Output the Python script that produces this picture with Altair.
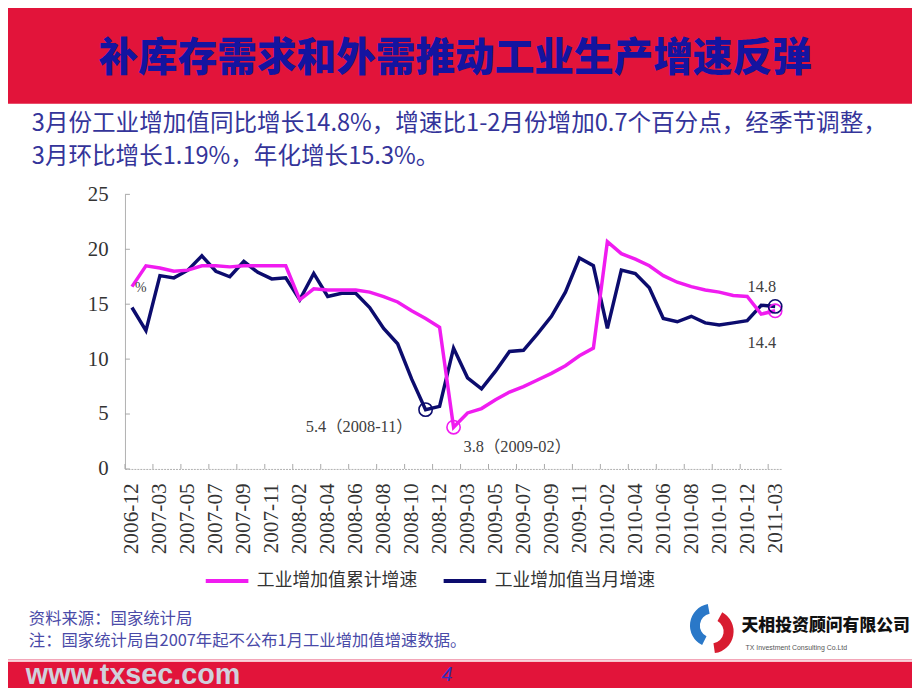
import altair as alt
import pandas as pd

# ---------------- data ----------------
months = [
    "2006-12",
    "2007-02", "2007-03", "2007-04", "2007-05", "2007-06", "2007-07", "2007-08",
    "2007-09", "2007-10", "2007-11", "2007-12",
    "2008-02", "2008-03", "2008-04", "2008-05", "2008-06", "2008-07", "2008-08",
    "2008-09", "2008-10", "2008-11", "2008-12",
    "2009-02", "2009-03", "2009-04", "2009-05", "2009-06", "2009-07", "2009-08",
    "2009-09", "2009-10", "2009-11", "2009-12",
    "2010-02", "2010-03", "2010-04", "2010-05", "2010-06", "2010-07", "2010-08",
    "2010-09", "2010-10", "2010-11", "2010-12",
    "2011-02", "2011-03",
]
cumulative = [
    16.6,
    18.5, 18.3, 18.0, 18.1, 18.5, 18.5, 18.4, 18.5, 18.5, 18.5, 18.5,
    15.4, 16.4, 16.3, 16.3, 16.3, 16.1, 15.7, 15.2, 14.4, 13.7, 12.9,
    3.8, 5.1, 5.5, 6.3, 7.0, 7.5, 8.1, 8.7, 9.4, 10.3, 11.0,
    20.7, 19.6, 19.1, 18.5, 17.6, 17.0, 16.6, 16.3, 16.1, 15.8, 15.7,
    14.1, 14.4,
]
monthly = [
    14.7,
    12.6, 17.6, 17.4, 18.1, 19.4, 18.0, 17.5, 18.9, 17.9, 17.3, 17.4,
    15.4, 17.8, 15.7, 16.0, 16.0, 14.7, 12.8, 11.4, 8.2, 5.4, 5.7,
    11.0, 8.3, 7.3, 8.9, 10.7, 10.8, 12.3, 13.9, 16.1, 19.2, 18.5,
    12.8, 18.1, 17.8, 16.5, 13.7, 13.4, 13.9, 13.3, 13.1, 13.3, 13.5,
    14.9, 14.8,
]
series_names = ["工业增加值累计增速", "工业增加值当月增速"]
series_colors = ["#f01cf0", "#0c0c6e"]
tick_months = months[::2]
y_ticks = [0, 5, 10, 15, 20, 25]

title_text = "补库存需求和外需推动工业生产增速反弹"
sub_line1 = "3月份工业增加值同比增长14.8%，增速比1-2月份增加0.7个百分点，经季节调整，"
sub_line2 = "3月环比增长1.19%，年化增长15.3%。"
source_line1 = "资料来源：国家统计局"
source_line2 = "注：国家统计局自2007年起不公布1月工业增加值增速数据。"
site_text = "www.txsec.com"
page_no = "4"
company_cn = "天相投资顾问有限公司"
company_en = "TX Investment Consulting Co.Ltd"

# annotations: (month, value, text)
ann_min_mon = ("2008-11", 5.4, "5.4（2008-11）")
ann_min_cum = ("2009-02", 3.8, "3.8（2009-02）")
ann_end_mon = ("2011-03", 14.8, "14.8")
ann_end_cum = ("2011-03", 14.4, "14.4")

# ---------------- layout ----------------
PL, PT = 118, 185          # plot origin inside the svg
W, H = 663, 277            # plot area
TOTAL_W, TOTAL_H = 912, 683
PR = TOTAL_W - PL - W
PB = TOTAL_H - PT - H
STEP = W / len(months)

SERIF = "Liberation Serif, Noto Sans CJK SC"
CJK = "Noto Sans CJK SC"
RED = "#e2143a"


def px(x):
    return x - 8 - PL


def py(y):
    return y - 8 - PT


def one():
    return alt.Chart(pd.DataFrame({"k": [0]}))


def label(text, x, y, size, color, font=CJK, weight="normal", align="left",
          baseline="middle", style="normal"):
    return alt.Chart(pd.DataFrame({"t": [text]})).mark_text(
        align=align, baseline=baseline, fontSize=size, font=font,
        fontWeight=weight, color=color, fontStyle=style
    ).encode(text="t:N", x=alt.value(px(x)), y=alt.value(py(y)))


# ---------------- data frames ----------------
df_cum = pd.DataFrame({"month": months, "value": cumulative, "series": series_names[0]})
df_mon = pd.DataFrame({"month": months, "value": monthly, "series": series_names[1]})

x_enc = alt.X(
    "month:O",
    scale=alt.Scale(type="point", padding=0.5, domain=months),
    axis=alt.Axis(
        values=tick_months, labelAngle=-90, labelFont=SERIF, labelFontSize=21.5,
        labelColor="#333333", ticks=False, domainColor="#b0b0b0",
        domainDash=[2, 1], labelPadding=14, title=None, labelOverlap=False,
        grid=False,
    ),
)
y_enc = alt.Y(
    "value:Q",
    scale=alt.Scale(domain=[0, 25], nice=False, zero=True),
    axis=alt.Axis(
        values=y_ticks, ticks=False, grid=False, labelFont=SERIF,
        labelFontSize=21, labelColor="#333333", labelPadding=17,
        domainColor="#b0b0b0", title=None,
    ),
)
color_enc = alt.Color(
    "series:N",
    scale=alt.Scale(domain=series_names, range=series_colors),
    legend=alt.Legend(
        title=None, orient="none", legendX=79, legendY=366,
        direction="horizontal", symbolType="stroke", symbolSize=1850,
        symbolStrokeWidth=4, labelFont=CJK, labelFontSize=18,
        labelColor="#333333", columnPadding=18, labelOffset=6, padding=0,
        labelLimit=0,
    ),
)

line_mon = alt.Chart(df_mon).mark_line(strokeWidth=3.5).encode(
    x=x_enc, y=y_enc, color=color_enc)
line_cum = alt.Chart(df_cum).mark_line(strokeWidth=3.5).encode(
    x=x_enc, y=y_enc, color=color_enc)

# inner tick marks
x_ticks = alt.Chart(pd.DataFrame({"month": tick_months})).mark_rule(
    color="#a8a8a8", strokeWidth=1, xOffset=-STEP / 2
).encode(x=x_enc, y=alt.value(H - 5), y2=alt.value(H))
y_tick_rules = alt.Chart(pd.DataFrame({"value": y_ticks})).mark_rule(
    color="#a8a8a8", strokeWidth=1
).encode(y=y_enc, x=alt.value(0), x2=alt.value(5))


def circle(item, color):
    m, v, _ = item
    return alt.Chart(pd.DataFrame({"month": [m], "value": [v]})).mark_point(
        shape="circle", filled=False, size=180, strokeWidth=1.6, color=color,
        opacity=1,
    ).encode(x=x_enc, y=y_enc)


def annot(item, align, dx, dy):
    m, v, t = item
    return alt.Chart(pd.DataFrame({"month": [m], "value": [v], "t": [t]})).mark_text(
        align=align, baseline="middle", dx=dx, dy=dy, fontSize=16.5,
        font=SERIF, color="#404040",
    ).encode(x=x_enc, y=y_enc, text="t:N")


circles = [
    circle(ann_min_mon, series_colors[1]),
    circle(ann_min_cum, series_colors[0]),
    circle(ann_end_cum, series_colors[0]),
    circle(ann_end_mon, series_colors[1]),
]
annots = [
    annot(ann_min_mon, "right", -13, 18),
    annot(ann_min_cum, "left", 10, 20),
    annot(ann_end_mon, "right", 1, -20),
    annot(ann_end_cum, "right", 1, 33),
]

# ---------------- decorations ----------------
header = one().mark_rect(color=RED).encode(
    x=alt.value(px(0)), x2=alt.value(px(920)),
    y=alt.value(py(0)), y2=alt.value(py(101.7)))
footer_band = one().mark_rect(color=RED).encode(
    x=alt.value(px(0)), x2=alt.value(px(920)),
    y=alt.value(py(664.5)), y2=alt.value(py(691)))
footer_line = one().mark_rule(color="#f3a6b8", strokeWidth=1.5).encode(
    x=alt.value(px(0)), x2=alt.value(px(920)), y=alt.value(py(662.5)))

title = label(title_text, 459, 57, 40, "#1414a0", weight=900, align="center")
sub1 = label(sub_line1, 32, 122.5, 23.8, "#34349a")
sub2 = label(sub_line2, 32, 155, 23.8, "#34349a")
pct = label("%", 142, 287, 14, "#404040", font=SERIF, align="center")
src1 = label(source_line1, 29, 621, 16.5, "#4a4aa8")
src2 = label(source_line2, 29, 644, 16.5, "#4a4aa8")
site = label(site_text, 26, 678, 29, "#d0d0dc", font="Liberation Sans", weight="bold")
page = label(page_no, 451, 678, 20, "#3030c0", font="Liberation Sans", style="italic",
             align="center")
comp_cn = label(company_cn, 748, 628, 17, "#111111", weight=900)
comp_en = label(company_en, 752, 651, 7, "#555555", font="Liberation Sans")

logo_blue = one().mark_arc(
    color="#2a78c8", theta=3.6, theta2=6.1, innerRadius=12, outerRadius=22
).encode(x=alt.value(px(718)), y=alt.value(py(628)))
logo_red = one().mark_arc(
    color="#d81c30", theta=0.5, theta2=3.0, innerRadius=12, outerRadius=22
).encode(x=alt.value(px(718)), y=alt.value(py(634)))

chart = alt.layer(
    header, footer_line, footer_band,
    title, sub1, sub2, src1, src2, site, page, comp_cn, comp_en,
    logo_blue, logo_red,
    x_ticks, y_tick_rules,
    line_mon, line_cum,
    *circles, *annots, pct,
).properties(
    width=W, height=H,
    autosize=alt.AutoSizeParams(type="none"),
    padding={"left": PL, "top": PT, "right": PR, "bottom": PB},
    background="white",
).configure_view(stroke=None)

chart.save("out.html", embed_options={"renderer": "svg", "actions": False})
